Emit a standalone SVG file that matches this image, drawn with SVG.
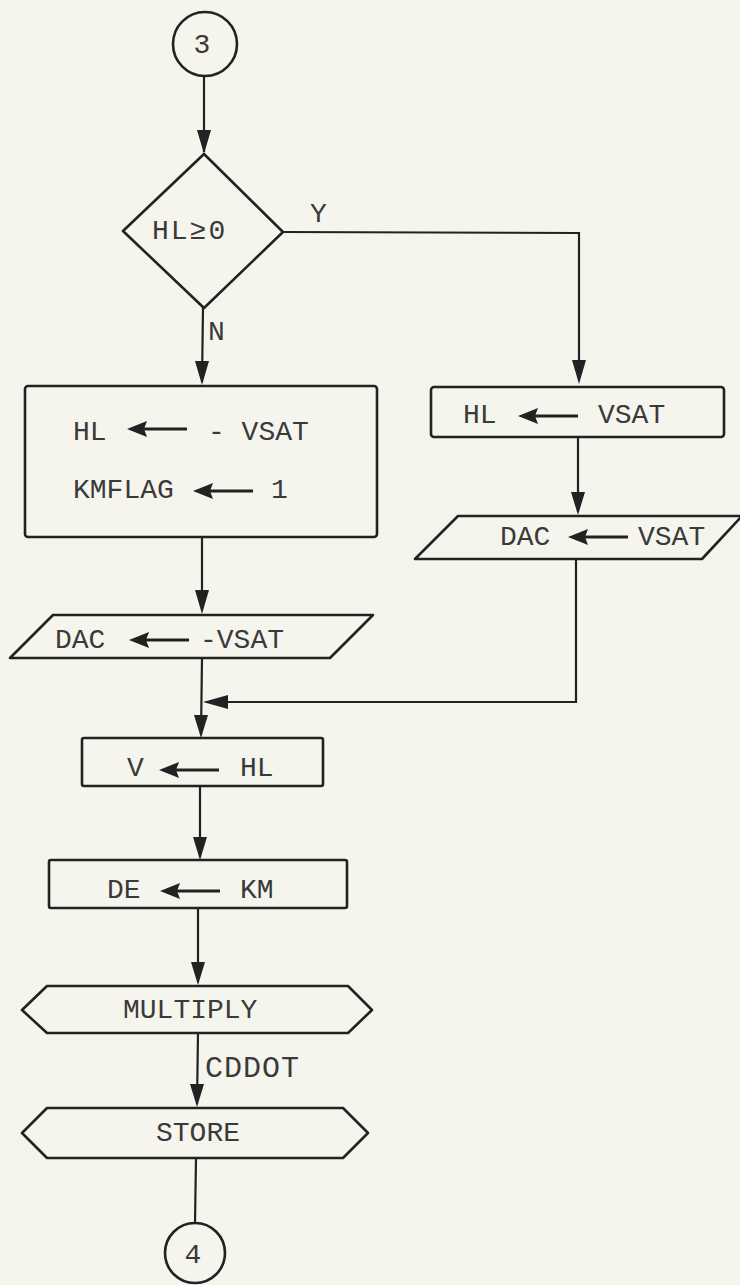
<svg xmlns="http://www.w3.org/2000/svg" width="740" height="1285" viewBox="0 0 740 1285">
<style>
.s{fill:none;stroke:#222;stroke-width:2.6;stroke-linejoin:round}
.c{fill:none;stroke:#222;stroke-width:2.2}
.t{font-family:"Liberation Mono","Courier New",monospace;font-size:28px;fill:#3a3a3a}
.ah{fill:#222}
</style>
<defs>
<g id="la">
<path d="M0,0 L20,-8 L17,0 L20,8 Z" fill="#222"/>
<line x1="15" y1="0" x2="60" y2="0" stroke="#222" stroke-width="3"/>
</g>
</defs>
<rect width="740" height="1285" fill="#f5f5ee"/>

<g id="connectors">
<path class="c" d="M204,76 L204,152"/>
<path d="M197,130 L211,130 L204,154 Z" class="ah"/>
<path class="c" d="M283,232 L579,233 L579,380"/>
<path d="M572,360 L586,360 L579,384 Z" class="ah"/>
<path class="c" d="M203,308 L202,382"/>
<path d="M195,361 L209,361 L202,385 Z" class="ah"/>
<path class="c" d="M578,437 L578,512"/>
<path d="M571,492 L585,492 L578,515 Z" class="ah"/>
<path class="c" d="M202,537 L202,610"/>
<path d="M195,590 L209,590 L202,614 Z" class="ah"/>
<path class="c" d="M576,559 L576,702 L206,702"/>
<path d="M228,695 L228,709 L203,702 Z" class="ah"/>
<path class="c" d="M202,658 L201,735"/>
<path d="M194,715 L208,715 L201,738 Z" class="ah"/>
<path class="c" d="M200,786 L200,857"/>
<path d="M193,837 L207,837 L200,860 Z" class="ah"/>
<path class="c" d="M198,908 L198,982"/>
<path d="M191,962 L205,962 L198,985 Z" class="ah"/>
<path class="c" d="M198,1033 L197,1104"/>
<path d="M190,1084 L204,1084 L197,1107 Z" class="ah"/>
<path class="c" d="M196,1158 L195,1223"/>
<text class="t" x="205" y="1077" style="font-size:30px;letter-spacing:1px">CDDOT</text>
<text class="t" x="310" y="222">Y</text>
<text class="t" x="208" y="340">N</text>
</g>

<g id="start3">
<circle class="s" cx="205" cy="44" r="32"/>
<text class="t" x="202" y="53" text-anchor="middle">3</text>
</g>

<g id="decision">
<path class="s" d="M204,154 L283,232 L204,308 L123,231 Z"/>
<text class="t" x="152" y="239" style="letter-spacing:2px">HL≥0</text>
</g>

<g id="boxN">
<rect class="s" x="25" y="386" width="352" height="151" rx="3"/>
<text class="t" x="73" y="440">HL</text>
<use href="#la" x="127" y="429"/>
<text class="t" x="208" y="440">- VSAT</text>
<text class="t" x="73" y="498">KMFLAG</text>
<use href="#la" x="193" y="491"/>
<text class="t" x="271" y="498">1</text>
</g>

<g id="boxY">
<rect class="s" x="431" y="387" width="293" height="50" rx="3"/>
<text class="t" x="463" y="423">HL</text>
<use href="#la" x="518" y="416"/>
<text class="t" x="598" y="423">VSAT</text>
</g>

<g id="dacY">
<path class="s" d="M458,516 L742,516 L702,559 L415,559 Z"/>
<text class="t" x="500" y="545">DAC</text>
<use href="#la" x="568" y="537"/>
<text class="t" x="638" y="545">VSAT</text>
</g>

<g id="dacN">
<path class="s" d="M53,615 L373,615 L330,658 L10,658 Z"/>
<text class="t" x="55" y="648">DAC</text>
<use href="#la" x="129" y="640"/>
<text class="t" x="200" y="648">-VSAT</text>
</g>

<g id="boxV">
<rect class="s" x="82" y="738" width="241" height="48" rx="2"/>
<text class="t" x="127" y="776">V</text>
<use href="#la" x="159" y="770"/>
<text class="t" x="240" y="776">HL</text>
</g>

<g id="boxDE">
<rect class="s" x="49" y="860" width="298" height="48" rx="2"/>
<text class="t" x="107" y="898">DE</text>
<use href="#la" x="160" y="891"/>
<text class="t" x="240" y="898">KM</text>
</g>

<g id="multiply">
<path class="s" d="M47,986 L348,986 L372,1010 L348,1033 L47,1033 L22,1010 Z"/>
<text class="t" x="123" y="1018">MULTIPLY</text>
</g>

<g id="store">
<path class="s" d="M47,1108 L343,1108 L368,1133 L343,1158 L47,1158 L22,1133 Z"/>
<text class="t" x="156" y="1141">STORE</text>
</g>

<g id="end4">
<circle class="s" cx="195" cy="1253" r="30"/>
<text class="t" x="193" y="1263" text-anchor="middle">4</text>
</g>
</svg>
